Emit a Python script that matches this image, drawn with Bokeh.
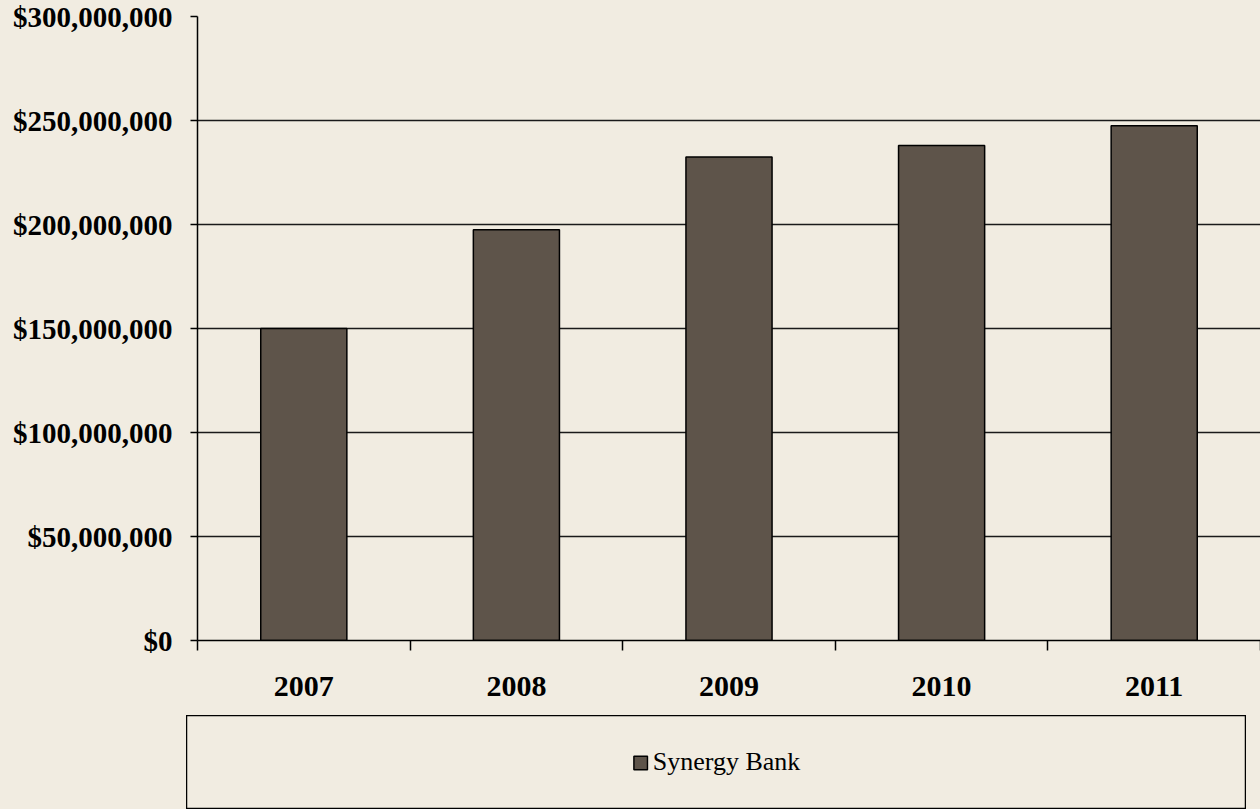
from bokeh.plotting import figure
from bokeh.layouts import column, row
from bokeh.models import Range1d, FixedTicker, NumeralTickFormatter, Legend, LegendItem, ColumnDataSource, Spacer
from bokeh.embed import file_html
from bokeh.resources import INLINE

years = [2007, 2008, 2009, 2010, 2011]
values = [150_000_000, 197_500_000, 232_500_000, 238_000_000, 247_500_000]
series_name = "Synergy Bank"
y_ticks = [0, 50_000_000, 100_000_000, 150_000_000, 200_000_000, 250_000_000, 300_000_000]

BG = "#F1ECE1"
BAR = "#5E544A"
FONT = "Liberation Serif"

p = figure(width=1260, height=715, output_backend="svg", toolbar_location=None,
           x_range=Range1d(years[0] - 0.5, years[-1] + 0.5), y_range=Range1d(0, 300_000_000),
           min_border_left=197, min_border_right=0, min_border_top=16, min_border_bottom=75)
p.background_fill_color = BG
p.border_fill_color = BG
p.outline_line_color = None

src = ColumnDataSource(dict(x=years, top=values))
p.vbar(x="x", top="top", width=0.405, source=src, fill_color=BAR, line_color="black", line_width=1.5)

xa = p.xaxis[0]
xa.ticker = FixedTicker(ticks=years, minor_ticks=[y - 0.5 for y in years] + [years[-1] + 0.5])
xa.major_label_overrides = {y: str(y) for y in years}
xa.major_tick_out = 0
xa.major_tick_in = 0
xa.minor_tick_out = 10
xa.minor_tick_in = 0
xa.minor_tick_line_color = "black"
xa.minor_tick_line_width = 1.5
xa.axis_line_color = "black"
xa.axis_line_width = 1.5
xa.major_label_standoff = 26
xa.major_label_text_font = FONT
xa.major_label_text_font_style = "bold"
xa.major_label_text_font_size = "30px"
xa.major_label_text_color = "black"

ya = p.yaxis[0]
ya.ticker = FixedTicker(ticks=y_ticks)
ya.formatter = NumeralTickFormatter(format="$0,0")
ya.major_tick_out = 7
ya.major_tick_in = 0
ya.minor_tick_out = 0
ya.minor_tick_in = 0
ya.major_tick_line_color = "black"
ya.major_tick_line_width = 1.5
ya.axis_line_color = "black"
ya.axis_line_width = 1.5
ya.major_label_standoff = 18
ya.major_label_text_font = FONT
ya.major_label_text_font_style = "bold"
ya.major_label_text_font_size = "29px"
ya.major_label_text_color = "black"

p.xgrid.visible = False
p.ygrid.grid_line_color = "#1a1a1a"
p.ygrid.grid_line_width = 1.5

# legend panel
p2 = figure(width=1060, height=94, output_backend="svg", toolbar_location=None,
            x_range=Range1d(0, 1), y_range=Range1d(0, 1),
            x_axis_location=None, y_axis_location=None,
            min_border_left=0, min_border_right=0, min_border_top=0, min_border_bottom=0)
p2.background_fill_color = BG
p2.border_fill_color = BG
p2.outline_line_color = "black"
p2.outline_line_width = 1.5
p2.grid.visible = False
dummy = p2.vbar(x="x", top="top", width=0.4, source=src, fill_color=BAR, line_color="black", line_width=1.5)
leg = Legend(items=[LegendItem(label=series_name, renderers=[dummy])], location="center",
             border_line_color=None, background_fill_alpha=0,
             label_text_font=FONT, label_text_font_size="26px", label_text_color="black",
             glyph_width=17, glyph_height=17, label_standoff=4)
p2.add_layout(leg)

left_sp = Spacer(width=186, height=94, styles={"background-color": BG})
right_sp = Spacer(width=14, height=94, styles={"background-color": BG})
layout = column(p, row(left_sp, p2, right_sp, spacing=0), spacing=0,
                styles={"background-color": BG})
open("out.html", "w").write(file_html(layout, INLINE))
